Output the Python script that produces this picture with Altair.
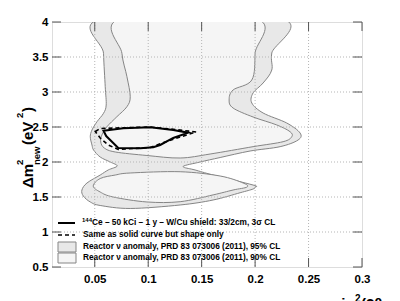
import altair as alt
import pandas as pd

# Reactor anomaly 95% CL contour (outer)
outer_x = [0.0577, 0.0582, 0.0598, 0.0607, 0.0582, 0.0521, 0.0474, 0.0458, 0.0474, 0.0489, 0.0551,
           0.0645, 0.0710, 0.0626, 0.0551, 0.0427, 0.0380, 0.0393, 0.0458, 0.0551, 0.0832, 0.1299,
           0.1607, 0.1860, 0.1981, 0.2000, 0.1981, 0.1607, 0.1439, 0.1327, 0.1486, 0.1673, 0.1953,
           0.2234, 0.2402, 0.2421, 0.2296, 0.2075, 0.1969, 0.1981, 0.2075, 0.2156, 0.2156, 0.2234]
outer_y = [4.05, 3.553, 3.076, 2.814, 2.696, 2.576, 2.457, 2.361, 2.243, 2.171, 2.071,
           2.0, 1.943, 1.886, 1.814, 1.70, 1.60, 1.514, 1.429, 1.379, 1.336, 1.386,
           1.457, 1.561, 1.614, 1.643, 1.671, 1.814, 1.886, 1.936, 2.0, 2.064, 2.157,
           2.219, 2.314, 2.414, 2.557, 2.70, 2.843, 2.986, 3.129, 3.314, 3.557, 4.05]

# Reactor anomaly 90% CL contour, upper region
in_up_x = [0.0745, 0.0754, 0.0801, 0.0832, 0.0801, 0.0707, 0.0614, 0.0567, 0.0556, 0.0589, 0.0692,
           0.0988, 0.1299, 0.1579, 0.1981, 0.2262, 0.2343, 0.2327, 0.2203, 0.1981, 0.1794, 0.1757,
           0.1794, 0.1969, 0.2000, 0.2000]
in_up_y = [4.05, 3.553, 3.219, 2.933, 2.79, 2.647, 2.504, 2.386, 2.286, 2.20, 2.143,
           2.093, 2.057, 2.114, 2.219, 2.29, 2.361, 2.433, 2.529, 2.643, 2.771, 2.886,
           3.029, 3.171, 3.557, 4.05]

# Reactor anomaly 90% CL contour, lower island
in_lo_x = [0.0486, 0.0551, 0.0692, 0.0832, 0.1299, 0.1673, 0.1888, 0.1925, 0.1794, 0.1607, 0.1299,
           0.0988, 0.0673, 0.0551]
in_lo_y = [1.657, 1.764, 1.814, 1.843, 1.861, 1.80, 1.70, 1.643, 1.60, 1.53, 1.433,
           1.429, 1.50, 1.571]

# 144Ce sensitivity contour (solid) and shape-only (dashed)
ce_x = [0.0582, 0.0766, 0.1019, 0.1234, 0.1374, 0.1234, 0.1112, 0.1047, 0.0925, 0.0720, 0.0661, 0.0607]
ce_y = [2.447, 2.481, 2.496, 2.457, 2.419, 2.343, 2.243, 2.21, 2.196, 2.20, 2.29, 2.371]
sh_x = [0.0505, 0.0551, 0.0766, 0.1019, 0.1252, 0.1449, 0.1299, 0.1159, 0.1019, 0.0720, 0.0626, 0.0551]
sh_y = [2.436, 2.479, 2.489, 2.50, 2.464, 2.429, 2.357, 2.286, 2.207, 2.179, 2.243, 2.343]

x_ticks = [0.05, 0.1, 0.15, 0.2, 0.25, 0.3]
y_ticks = [0.5, 1.0, 1.5, 2.0, 2.5, 3.0, 3.5, 4.0]
x_grid = [0.05, 0.1, 0.15, 0.2, 0.25]
y_grid = [1.0, 1.5, 2.0, 2.5, 3.0, 3.5]
legend_texts = ["Ce \u2013 50 kCi \u2013 1 y \u2013 W/Cu shield: 33/2cm, 3\u03c3  CL",
                "Same as solid curve but shape only",
                "Reactor \u03bd anomaly, PRD 83 073006 (2011), 95% CL",
                "Reactor \u03bd anomaly, PRD 83 073006 (2011), 90% CL"]

W, H = 310, 245
FONT = "Liberation Sans"

xs = alt.Scale(domain=[0.01, 0.3], nice=False, zero=False)
ys = alt.Scale(domain=[0.5, 4.0], nice=False, zero=False)
X = alt.X("x:Q", scale=xs, axis=alt.Axis(values=x_ticks, ticks=False, grid=False, domain=False, format="~g",
                                          labelFont=FONT, labelFontSize=11.5, labelFontWeight="bold",
                                          labelColor="black", labelPadding=6, title=None, labelFlush=False))
Y = alt.Y("y:Q", scale=ys, axis=alt.Axis(values=y_ticks, ticks=False, grid=False, domain=False, format="~g",
                                          labelFont=FONT, labelFontSize=11.5, labelFontWeight="bold",
                                          labelColor="black", labelPadding=4, title=None, labelFlush=False))


def poly(xv, yv):
    return pd.DataFrame({"x": xv, "y": yv, "i": list(range(len(xv)))})


one = pd.DataFrame({"a": [0]})


def txt(t, x, y, size, angle=0, align="left", baseline="middle"):
    kw = dict(font=FONT, fontSize=size, fontWeight="bold", color="black", align=align, baseline=baseline)
    if angle:
        kw["angle"] = angle
    return alt.Chart(pd.DataFrame({"t": [t]})).mark_text(**kw).encode(
        text="t:N", x=alt.value(x), y=alt.value(y))


layers = []
layers.append(alt.Chart(poly(outer_x, outer_y)).mark_line(
    interpolate="cardinal-closed", fill="#e8e8e8", stroke="#858585", strokeWidth=1, clip=True
).encode(x=X, y=Y, order="i:Q"))
layers.append(alt.Chart(poly(in_up_x, in_up_y)).mark_line(
    interpolate="cardinal-closed", fill="#f5f5f5", stroke="#858585", strokeWidth=1, clip=True
).encode(x=X, y=Y, order="i:Q"))
layers.append(alt.Chart(poly(in_lo_x, in_lo_y)).mark_line(
    interpolate="cardinal-closed", fill="#f5f5f5", stroke="#858585", strokeWidth=1, clip=True
).encode(x=X, y=Y, order="i:Q"))

# grid
layers.append(alt.Chart(pd.DataFrame({"x": x_grid})).mark_rule(
    stroke="#b5b5b5", strokeDash=[1, 2], strokeWidth=1).encode(x=X))
layers.append(alt.Chart(pd.DataFrame({"y": y_grid})).mark_rule(
    stroke="#b5b5b5", strokeDash=[1, 2], strokeWidth=1).encode(y=Y))

# ticks (inside)
ytdf = pd.DataFrame({"y": y_ticks})
xtdf = pd.DataFrame({"x": x_ticks})
layers.append(alt.Chart(ytdf).mark_rule(stroke="#555", strokeWidth=1).encode(y=Y, x=alt.value(0), x2=alt.value(9)))
layers.append(alt.Chart(ytdf).mark_rule(stroke="#555", strokeWidth=1).encode(y=Y, x=alt.value(W - 9), x2=alt.value(W)))
layers.append(alt.Chart(xtdf).mark_rule(stroke="#555", strokeWidth=1).encode(x=X, y=alt.value(H - 9), y2=alt.value(H)))
layers.append(alt.Chart(xtdf).mark_rule(stroke="#555", strokeWidth=1).encode(x=X, y=alt.value(0), y2=alt.value(9)))

# Ce contours
layers.append(alt.Chart(poly(sh_x, sh_y)).mark_line(
    interpolate="linear-closed", stroke="black", strokeWidth=1.6, strokeDash=[4, 3]
).encode(x=X, y=Y, order="i:Q"))
layers.append(alt.Chart(poly(ce_x, ce_y)).mark_line(
    interpolate="linear-closed", stroke="black", strokeWidth=2
).encode(x=X, y=Y, order="i:Q"))

# legend
LS = 8.3
layers.append(alt.Chart(one).mark_rule(stroke="black", strokeWidth=2).encode(
    x=alt.value(6), x2=alt.value(23), y=alt.value(201)))
layers.append(txt("144", 30, 198, 6))
layers.append(txt(legend_texts[0], 40, 201, LS))
layers.append(alt.Chart(one).mark_rule(stroke="black", strokeWidth=1.6, strokeDash=[4, 3]).encode(
    x=alt.value(6), x2=alt.value(23), y=alt.value(213)))
layers.append(txt(legend_texts[1], 31, 213, LS))
layers.append(alt.Chart(one).mark_rect(fill="#e8e8e8", stroke="#858585", strokeWidth=1).encode(
    x=alt.value(6), x2=alt.value(24), y=alt.value(220), y2=alt.value(230)))
layers.append(txt(legend_texts[2], 31, 225, LS))
layers.append(alt.Chart(one).mark_rect(fill="#f5f5f5", stroke="#858585", strokeWidth=1).encode(
    x=alt.value(6), x2=alt.value(24), y=alt.value(231), y2=alt.value(241)))
layers.append(txt(legend_texts[3], 31, 236, LS))

# y-axis title: Δm²_new (eV²)
layers.append(txt("\u0394m", -19, 166, 15, angle=270, baseline="alphabetic"))
layers.append(txt("2", -29, 143, 9.5, angle=270, baseline="alphabetic"))
layers.append(txt("new", -12, 143, 9.5, angle=270, baseline="alphabetic"))
layers.append(txt(" (eV", -19, 123, 15, angle=270, baseline="alphabetic"))
layers.append(txt("2", -29, 96, 9.5, angle=270, baseline="alphabetic"))
layers.append(txt(")", -19, 90, 15, angle=270, baseline="alphabetic"))

# x-axis title: sin²(2θ_new) (mostly below the visible area)
layers.append(txt("sin", 281, 287, 15, baseline="alphabetic"))
layers.append(txt("2", 303, 280, 10, baseline="alphabetic"))
layers.append(txt("(2\u03b8", 309, 287, 15, baseline="alphabetic"))
layers.append(txt("new", 336, 291, 10, baseline="alphabetic"))
layers.append(txt(")", 355, 287, 15, baseline="alphabetic"))

chart = alt.layer(*layers).properties(
    width=W, height=H,
    padding={"left": 44, "top": 14, "right": 30, "bottom": 45},
    autosize=alt.AutoSizeParams(type="none"),
).configure_view(stroke="#222", strokeWidth=1.2).configure(font=FONT)

chart.save("out.html", embed_options={"renderer": "svg", "actions": False})
